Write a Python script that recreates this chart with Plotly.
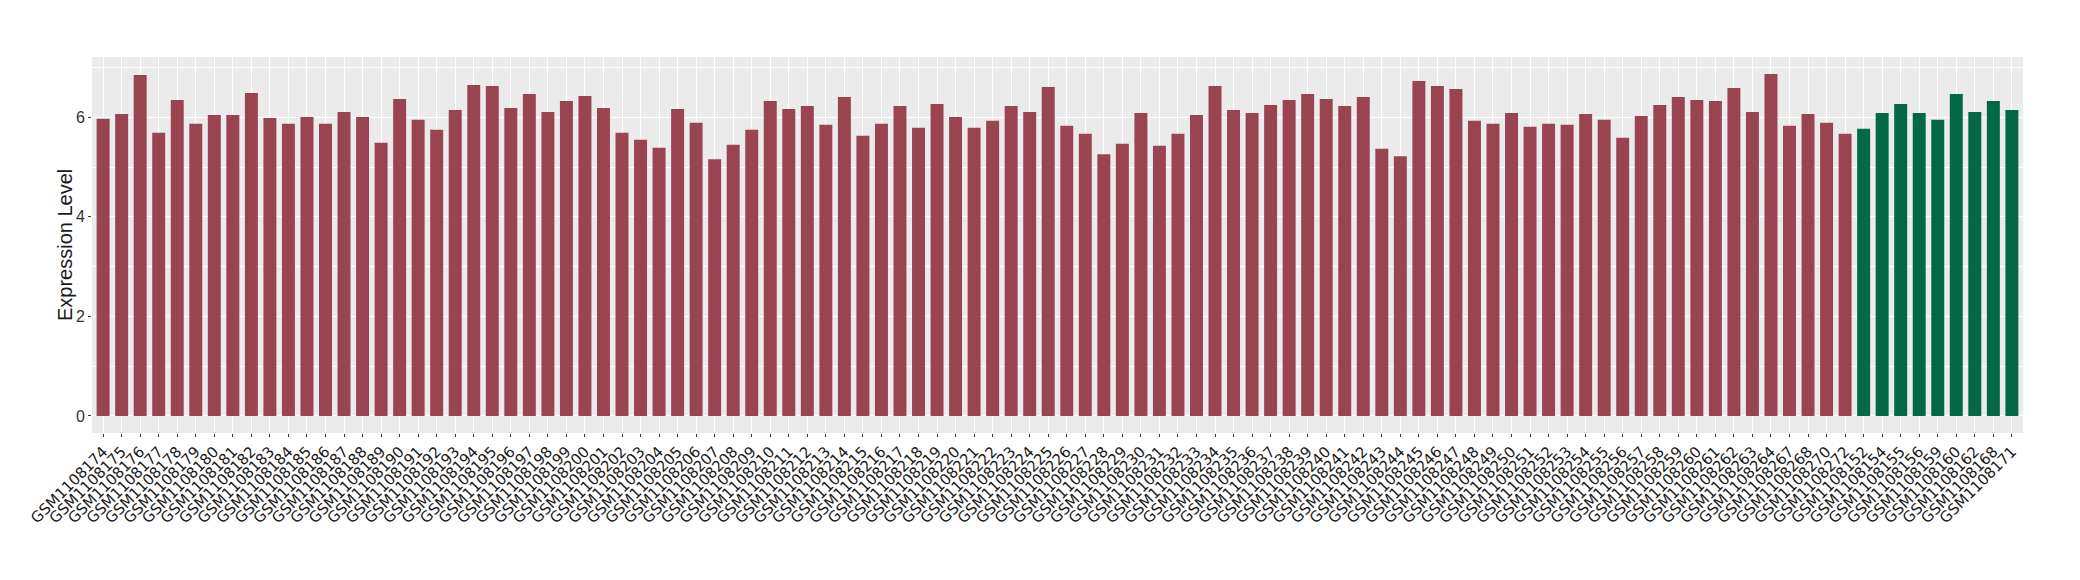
import plotly.graph_objects as go

red_samples = [f"GSM1108{n}" for n in range(174, 265)] + ["GSM1108267", "GSM1108268", "GSM1108270", "GSM1108272"]
green_samples = ["GSM1108152", "GSM1108154", "GSM1108155", "GSM1108156", "GSM1108159",
                 "GSM1108160", "GSM1108162", "GSM1108168", "GSM1108171"]

red_values = [
    5.97, 6.07, 6.85, 5.69, 6.35, 5.87, 6.05, 6.05, 6.49, 5.99,
    5.87, 6.01, 5.87, 6.11, 6.01, 5.49, 6.37, 5.95, 5.75, 6.15,
    6.65, 6.63, 6.19, 6.47, 6.11, 6.33, 6.43, 6.19, 5.69, 5.55,
    5.39, 6.17, 5.89, 5.16, 5.45, 5.75, 6.33, 6.17, 6.23, 5.85,
    6.41, 5.63, 5.87, 6.23, 5.79, 6.27, 6.01, 5.79, 5.93, 6.23,
    6.11, 6.61, 5.83, 5.67, 5.26, 5.47, 6.09, 5.43, 5.67, 6.05,
    6.63, 6.15, 6.09, 6.25, 6.35, 6.47, 6.37, 6.23, 6.41, 5.37,
    5.22, 6.73, 6.63, 6.57, 5.93, 5.87, 6.09, 5.81, 5.87, 5.85,
    6.07, 5.95, 5.59, 6.03, 6.25, 6.41, 6.35, 6.33, 6.59, 6.11,
    6.87, 5.83, 6.07, 5.89, 5.67,
]
green_values = [5.77, 6.09, 6.27, 6.09, 5.95, 6.47, 6.11, 6.33, 6.15]

y_ticks = [0, 2, 4, 6]
y_title = "Expression Level"

RED = "#9A4452"
GREEN = "#026845"

all_samples = red_samples + green_samples

W, H = 2080, 580
# page body adds an 8px offset; margins compensate so the panel sits at x 92..2023, y 57..433
ML, MR, MT, MB = 84, 65, 49, 155
plot_w = W - ML - MR

fig = go.Figure()
fig.add_trace(go.Bar(x=red_samples, y=red_values, marker=dict(color=RED, line=dict(width=0)),
                     showlegend=False))
fig.add_trace(go.Bar(x=green_samples, y=green_values, marker=dict(color=GREEN, line=dict(width=0)),
                     showlegend=False))

ymax = max(red_values + green_values)
fig.update_layout(
    width=W, height=H,
    margin=dict(l=ML, r=MR, t=MT, b=MB, pad=0),
    paper_bgcolor="white",
    plot_bgcolor="#EBEBEB",
    bargap=0.3,
    barmode="overlay",
    font=dict(family="Liberation Sans, Arial, sans-serif", color="#1a1a1a"),
    xaxis=dict(
        type="category",
        categoryorder="array", categoryarray=all_samples,
        range=[-0.6, len(all_samples) - 0.4],
        tickangle=-45,
        tickfont=dict(family="DejaVu Sans", size=15, color="#1a1a1a"),
        showgrid=True, gridcolor="white", gridwidth=1,
        ticks="outside", ticklen=3, tickcolor="#333333", tickwidth=1,
        zeroline=False, showline=False, automargin=False,
    ),
    yaxis=dict(
        range=[-0.05 * ymax, 1.05 * ymax],
        tickvals=y_ticks,
        tickfont=dict(family="Liberation Sans, Arial", size=16, color="#333333"),
        ticks="outside", ticklen=3, tickcolor="#333333", tickwidth=1,
        showgrid=True, gridcolor="white", gridwidth=1.2,
        minor=dict(tickvals=[1, 3, 5, 7], showgrid=True, gridcolor="white", gridwidth=0.6),
        zeroline=False, showline=False, automargin=False,
    ),
    annotations=[dict(
        text=y_title, textangle=-90, showarrow=False,
        xref="paper", yref="paper",
        x=-27 / plot_w, y=0.5, xanchor="center", yanchor="middle",
        font=dict(family="Liberation Sans, Arial", size=20, color="#1a1a1a"),
    )],
)

fig.write_html("out.html")
